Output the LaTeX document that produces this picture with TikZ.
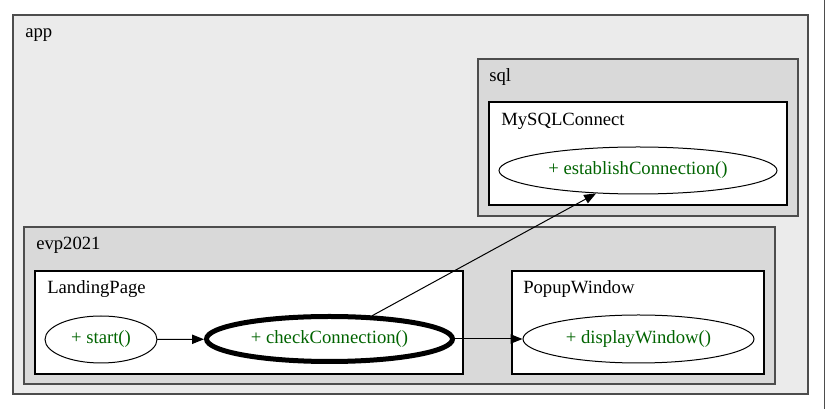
\documentclass[tikz,border=0pt]{standalone}
\usepackage{fontspec}
\setmainfont{Liberation Serif}
\usetikzlibrary{arrows.meta, shapes.geometric}
\definecolor{appgray}{HTML}{EBEBEB}
\definecolor{pkggray}{HTML}{D9D9D9}
\definecolor{framegray}{HTML}{4D4D4D}
\definecolor{methgreen}{HTML}{006400}

\begin{document}
\begin{tikzpicture}[x=0.75pt, y=-0.75pt, line cap=round, line join=miter,
    wire/.style={line width=0.75pt},
    pkg/.style={draw=framegray, line width=1.1pt},
    cls/.style={draw=black, fill=white, line width=0.9pt},
    lbl/.style={font=\fontsize{14}{16}\selectfont, anchor=base west, inner sep=0pt},
    meth/.style={ellipse, draw=black, fill=white, line width=0.75pt, inner sep=0pt,
      text=methgreen, font=\fontsize{14}{16}\selectfont},
    >={Triangle[length=9pt, width=7pt]}]
  \useasboundingbox (0,0) rectangle (826,409);
  % ================= app =================
  \draw[pkg, fill=appgray] (13,15) rectangle (808,394);
  \node[lbl] (applbl) at (25,38) {app};
  % ================= sql =================
  \draw[pkg, fill=pkggray] (478,59) rectangle (798,216);
  \node[lbl] (sqllbl) at (489,82) {sql};
  \draw[cls] (489,102) rectangle (787,205);
  \node[lbl] (mysqllbl) at (501,126) {MySQLConnect};
  \node[meth, minimum width=208.5pt, minimum height=35.25pt] (establish) at (638,170.5)
      {+ establishConnection()};
  % ================= evp2021 =================
  \draw[pkg, fill=pkggray] (24,227) rectangle (775,384);
  \node[lbl] (evplbl) at (36,250) {evp2021};
  % LandingPage
  \draw[cls] (35,271) rectangle (463,374);
  \node[lbl] (landinglbl) at (47,294) {LandingPage};
  \node[meth, minimum width=84pt, minimum height=35.25pt] (start) at (101,339.5) {+ start()};
  \node[meth, line width=3.75pt, minimum width=184.5pt, minimum height=33.75pt] (check)
      at (329.5,339) {+ checkConnection()};
  % PopupWindow
  \draw[cls] (512,271) rectangle (764,374);
  \node[lbl] (popuplbl) at (523,294) {PopupWindow};
  \node[meth, minimum width=173.25pt, minimum height=36pt] (display) at (638.5,339)
      {+ displayWindow()};
  % calls
  \draw[wire, ->] (start) -- (check);
  \draw[wire, ->] (check) -- (display);
  \draw[wire, ->] (check) -- (establish);
  % page edge
  \draw[framegray, line width=0.75pt] (824,0) -- (824,409);
\end{tikzpicture}
\end{document}
